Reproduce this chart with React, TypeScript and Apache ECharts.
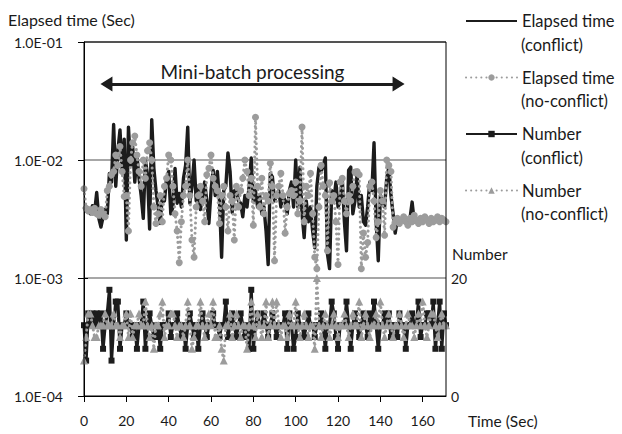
import React, { useEffect, useRef } from "react";
import * as echarts from "echarts";

// ---------- data ----------
// Elapsed time per step, seconds (t = index, 1 s per step)
const elapsedConflict = [
  4.0e-3, 3.7e-3, 3.9e-3, 3.5e-3, 4.1e-3, 3.6e-3, 5.3e-3, 3.2e-3, 2.7e-3, 3.3e-3,
  3.8e-3, 3.5e-3, 7.7e-3, 6.5e-3, 2.0e-2, 6.0e-3, 1.2e-2, 1.8e-2, 8.0e-3, 1.5e-2,
  2.1e-3, 1.9e-2, 9.0e-3, 1.3e-2, 6.5e-3, 1.1e-2, 7.0e-3, 5.0e-3, 3.2e-3, 1.0e-2,
  7.5e-3, 2.6e-3, 2.2e-2, 8.5e-3, 5.5e-3, 4.0e-3, 2.9e-3, 5.0e-3, 4.5e-3, 7.0e-3,
  8.0e-3, 3.5e-3, 4.0e-3, 8.5e-3, 4.3e-3, 5.2e-3, 4.0e-3, 7.0e-3, 9.0e-3, 1.9e-2,
  4.3e-3, 6.0e-3, 1.0e-2, 4.5e-3, 6.0e-3, 3.8e-3, 5.0e-3, 6.5e-3, 4.5e-3, 2.9e-3,
  5.5e-3, 8.2e-3, 5.0e-3, 8.0e-3, 4.5e-3, 1.5e-3, 5.5e-3, 6.0e-3, 1.15e-2, 8.0e-3,
  3.6e-3, 5.5e-3, 5.5e-3, 4.5e-3, 4.3e-3, 3.3e-3, 5.0e-3, 4.0e-3, 6.0e-3, 1.04e-2,
  4.5e-3, 5.5e-3, 4.0e-3, 5.0e-3, 3.5e-3, 4.0e-3, 2.5e-3, 1.3e-3, 7.7e-3, 7.2e-3,
  4.5e-3, 5.0e-3, 5.5e-3, 4.0e-3, 5.0e-3, 4.5e-3, 3.5e-3, 5.5e-3, 6.5e-3, 4.0e-3,
  1.0e-2, 4.0e-3, 8.7e-3, 3.5e-3, 2.2e-3, 4.5e-3, 3.0e-3, 4.0e-3, 2.5e-3, 1.8e-3,
  6.0e-3, 8.7e-3, 8.0e-3, 9.0e-3, 1.04e-2, 1.6e-3, 1.2e-3, 5.5e-3, 4.5e-3, 6.5e-3,
  4.0e-3, 4.5e-3, 7.0e-3, 3.0e-3, 1.7e-3, 8.2e-3, 8.7e-3, 3.5e-3, 4.5e-3, 7.5e-3,
  4.0e-3, 5.0e-3, 3.0e-3, 2.8e-3, 4.0e-3, 6.5e-3, 5.5e-3, 1.4e-2, 3.0e-3, 1.4e-3,
  5.0e-3, 4.5e-3, 4.0e-3, 7.0e-3, 8.7e-3, 5.0e-3, 3.5e-3, 2.4e-3, 3.1e-3, 3.0e-3,
  3.2e-3, 3.0e-3, 3.1e-3, 3.0e-3, 3.2e-3, 4.4e-3, 3.0e-3, 3.1e-3, 3.0e-3, 3.1e-3,
  3.0e-3, 3.2e-3, 3.0e-3, 3.1e-3, 3.0e-3, 3.1e-3, 3.2e-3, 3.0e-3, 3.1e-3, 3.0e-3,
  3.1e-3, 3.0e-3,
];

const elapsedNoConflict = [
  5.7e-3, 3.9e-3, 3.7e-3, 3.8e-3, 3.6e-3, 3.9e-3, 3.5e-3, 3.4e-3, 3.8e-3, 3.5e-3,
  3.3e-3, 5.5e-3, 6.0e-3, 7.5e-3, 8.0e-3, 1.1e-2, 9.0e-3, 1.3e-2, 8.0e-3, 4.9e-3,
  5.0e-3, 2.5e-3, 1.0e-2, 1.4e-2, 1.6e-2, 1.1e-2, 8.0e-3, 6.0e-3, 1.0e-2, 7.0e-3,
  1.2e-2, 1.4e-2, 1.0e-2, 4.0e-3, 2.9e-3, 3.5e-3, 5.0e-3, 3.0e-3, 6.0e-3, 7.0e-3,
  1.1e-2, 1.0e-2, 6.0e-3, 3.5e-3, 2.5e-3, 1.35e-3, 3.0e-3, 5.0e-3, 6.0e-3, 1.0e-2,
  5.0e-3, 2.1e-3, 1.5e-3, 4.0e-3, 5.0e-3, 6.0e-3, 4.5e-3, 3.0e-3, 7.5e-3, 8.5e-3,
  1.1e-2, 7.0e-3, 6.0e-3, 5.5e-3, 2.9e-3, 5.0e-3, 6.0e-3, 4.0e-3, 2.5e-3, 5.0e-3,
  4.5e-3, 2.1e-3, 6.0e-3, 4.0e-3, 5.5e-3, 7.0e-3, 1.0e-2, 8.0e-3, 5.0e-3, 7.0e-3,
  2.8e-3, 2.3e-2, 6.0e-3, 4.0e-3, 7.0e-3, 3.5e-3, 5.0e-3, 4.5e-3, 9.4e-3, 6.0e-3,
  1.4e-3, 5.0e-3, 6.0e-3, 7.7e-3, 5.0e-3, 2.4e-3, 4.0e-3, 5.2e-3, 5.5e-3, 5.0e-3,
  6.5e-3, 3.5e-3, 4.5e-3, 1.9e-2, 3.0e-3, 6.0e-3, 5.0e-3, 7.7e-3, 3.5e-3, 1.5e-3,
  1.2e-3, 4.0e-3, 9.0e-3, 6.0e-3, 5.0e-3, 1.7e-3, 6.4e-3, 4.5e-3, 5.0e-3, 3.0e-3,
  1.3e-3, 6.5e-3, 7.0e-3, 4.5e-3, 3.5e-3, 5.0e-3, 4.5e-3, 6.0e-3, 7.9e-3, 8.0e-3,
  7.5e-3, 1.2e-3, 2.4e-3, 1.5e-3, 2.0e-3, 6.0e-3, 6.5e-3, 4.5e-3, 2.2e-3, 3.0e-3,
  5.5e-3, 4.5e-3, 2.3e-3, 1.0e-2, 9.0e-3, 8.0e-3, 2.7e-3, 3.0e-3, 3.2e-3, 2.9e-3,
  3.1e-3, 3.3e-3, 3.0e-3, 2.8e-3, 3.2e-3, 3.0e-3, 3.4e-3, 3.1e-3, 2.9e-3, 3.2e-3,
  3.0e-3, 3.3e-3, 3.1e-3, 2.9e-3, 3.2e-3, 3.0e-3, 3.1e-3, 3.3e-3, 3.0e-3, 3.2e-3,
  3.1e-3, 3.0e-3,
];

const numberConflict = [
  12, 6, 14, 12, 14, 12, 14, 12, 14, 8,
  12, 14, 18, 6, 12, 16, 16, 8, 12, 12,
  14, 12, 12, 10, 12, 8, 12, 12, 16, 8,
  12, 14, 12, 10, 10, 12, 8, 12, 12, 12,
  14, 10, 12, 12, 14, 12, 10, 12, 8, 12,
  14, 12, 10, 12, 8, 12, 14, 12, 10, 12,
  12, 14, 12, 12, 10, 12, 12, 16, 10, 12,
  14, 12, 10, 12, 14, 12, 10, 12, 8, 18,
  8, 12, 14, 12, 12, 14, 12, 10, 12, 14,
  12, 10, 12, 12, 12, 14, 8, 14, 12, 8,
  10, 14, 12, 12, 10, 12, 14, 12, 12, 10,
  12, 12, 14, 12, 8, 12, 12, 16, 14, 10,
  8, 12, 12, 12, 16, 12, 8, 12, 14, 12,
  10, 12, 14, 12, 10, 14, 12, 16, 12, 8,
  12, 12, 14, 12, 14, 10, 12, 12, 10, 14,
  12, 12, 8, 12, 12, 14, 12, 12, 16, 10,
  12, 12, 14, 14, 12, 16, 8, 12, 16, 8,
  14, 12,
];

const numberNoConflict = [
  6, 10, 14, 14, 12, 10, 10, 12, 12, 12,
  14, 12, 12, 12, 14, 12, 12, 10, 12, 12,
  14, 10, 14, 10, 12, 12, 14, 12, 12, 16,
  12, 10, 12, 8, 12, 12, 14, 16, 10, 12,
  12, 14, 14, 12, 10, 12, 12, 10, 12, 16,
  12, 8, 10, 12, 12, 16, 12, 10, 12, 14,
  12, 16, 10, 10, 12, 8, 6, 12, 12, 14,
  10, 12, 14, 12, 10, 12, 12, 8, 12, 16,
  12, 10, 14, 12, 10, 12, 16, 10, 12, 16,
  12, 16, 12, 10, 12, 12, 10, 14, 12, 12,
  16, 12, 10, 12, 14, 12, 10, 12, 12, 8,
  20, 12, 10, 12, 14, 12, 10, 12, 14, 12,
  10, 12, 12, 14, 12, 10, 12, 14, 12, 12,
  16, 10, 12, 14, 12, 10, 12, 12, 14, 12,
  16, 12, 10, 12, 14, 12, 10, 12, 12, 14,
  12, 10, 12, 14, 12, 12, 10, 12, 14, 12,
  16, 12, 10, 12, 14, 14, 12, 10, 12, 14,
  12, 12,
];

const seriesNames = [
  "Elapsed time (conflict)",
  "Elapsed time (no-conflict)",
  "Number (conflict)",
  "Number (no-conflict)",
];
const legendSecondLines = ["(conflict)", "(no-conflict)", "(conflict)", "(no-conflict)"];

const timeRange = [0, 171];
const timeInterval = 20;
const elapsedRange = [1e-4, 1e-1];
const numberRange = [0, 20];
const batchSpan = [10.6, 148.6]; // Mini-batch processing arrow (sec)
const batchLevel = 0.044; // arrow height on elapsed-time axis

// ---------- styles ----------
const FONT = "Lato";
const TEXT = "#1a1a1a";
const BLACK = "#1c1c1c";
const GRAY = "#9c9c9c";

const PLOT = { left: 84, top: 42, right: 446, bottom: 396 };

const toPairs = (arr: number[]) => arr.map((v, i) => [i, v]);

export default function App() {
  const ref = useRef<HTMLDivElement>(null);

  useEffect(() => {
    document.body.style.margin = "0";
    if (!ref.current) return;
    const chart = echarts.init(ref.current, null, { renderer: "svg" });

    const legendTop = 11;
    const legendStep = 56.5;
    const legendTextX = 521;

    const option: any = {
      animation: false,
      backgroundColor: "#ffffff",
      textStyle: { fontFamily: FONT, color: TEXT },
      grid: [
        { left: PLOT.left, right: 622 - PLOT.right, top: PLOT.top, bottom: 434 - PLOT.bottom, show: false },
        { left: PLOT.left, right: 622 - PLOT.right, top: 278, bottom: 434 - PLOT.bottom, show: false },
      ],
      legend: {
        orient: "vertical",
        left: 465,
        top: legendTop,
        padding: 0,
        itemWidth: 51,
        itemHeight: 8,
        itemGap: legendStep - 20,
        selectedMode: false,
        data: [
          { name: seriesNames[0], itemStyle: { opacity: 0 } },
          { name: seriesNames[1] },
          { name: seriesNames[2] },
          { name: seriesNames[3] },
        ],
        formatter: (n: string) => n.split(" (")[0],
        textStyle: { fontFamily: FONT, fontSize: 16.5, color: TEXT, lineHeight: 20 },
      },
      xAxis: [
        {
          type: "value",
          gridIndex: 0,
          min: timeRange[0],
          max: timeRange[1],
          interval: timeInterval,
          axisLine: { show: true, onZero: false, lineStyle: { color: "#000", width: 1 } },
          axisTick: { show: true, length: 6, lineStyle: { color: "#000" } },
          axisLabel: { margin: 17, showMaxLabel: false, fontSize: 14, fontFamily: FONT, color: TEXT },
          splitLine: { show: false },
        },
        {
          type: "value",
          gridIndex: 1,
          min: timeRange[0],
          max: timeRange[1],
          show: false,
        },
      ],
      yAxis: [
        {
          type: "log",
          logBase: 10,
          gridIndex: 0,
          min: elapsedRange[0],
          max: elapsedRange[1],
          axisLine: { show: true, lineStyle: { color: "#000", width: 1 } },
          axisTick: { show: true, length: 6, lineStyle: { color: "#000" } },
          minorTick: { show: false },
          axisLabel: {
            margin: 21,
            fontSize: 14,
            fontFamily: FONT,
            color: TEXT,
            formatter: (v: number) => {
              const e = Math.round(Math.log10(v));
              return "1.0E" + (e < 0 ? "-" : "+") + String(Math.abs(e)).padStart(2, "0");
            },
          },
          splitLine: { show: true, showMinLine: false, showMaxLine: false, lineStyle: { color: "#8a8a8a", width: 1.5 } },
        },
        {
          type: "value",
          gridIndex: 1,
          position: "right",
          min: numberRange[0],
          max: numberRange[1],
          interval: 20,
          axisLine: { show: true, lineStyle: { color: "#000", width: 1 } },
          axisTick: { show: true, length: 4, lineStyle: { color: "#000" } },
          axisLabel: { margin: 5, fontSize: 14, fontFamily: FONT, color: TEXT },
          splitLine: { show: false },
        },
      ],
      series: [
        {
          name: seriesNames[0],
          type: "line",
          xAxisIndex: 0,
          yAxisIndex: 0,
          data: toPairs(elapsedConflict),
          symbol: "none",
          lineStyle: { color: BLACK, width: 3.4, join: "round" },
          itemStyle: { color: BLACK },
          z: 2,
          markLine: {
            silent: true,
            symbol: ["triangle", "triangle"],
            symbolSize: [15, 12],
            lineStyle: { color: BLACK, width: 3, type: "solid" },
            label: {
              show: true,
              position: "insideMiddleTop",
              formatter: "Mini-batch processing",
              fontSize: 19,
              fontFamily: FONT,
              color: TEXT,
              distance: 3,
            },
            data: [[{ coord: [batchSpan[0], batchLevel] }, { coord: [batchSpan[1], batchLevel] }]],
          },
        },
        {
          name: seriesNames[1],
          type: "line",
          xAxisIndex: 0,
          yAxisIndex: 0,
          data: toPairs(elapsedNoConflict),
          symbol: "circle",
          symbolSize: 7,
          showAllSymbol: true,
          lineStyle: { color: GRAY, width: 3, type: [0.1, 5], cap: "round" },
          itemStyle: { color: GRAY, borderWidth: 0 },
          z: 3,
        },
        {
          name: seriesNames[2],
          type: "line",
          xAxisIndex: 1,
          yAxisIndex: 1,
          data: toPairs(numberConflict),
          symbol: "rect",
          symbolSize: 6,
          showAllSymbol: true,
          lineStyle: { color: BLACK, width: 3.2 },
          itemStyle: { color: BLACK, borderWidth: 0 },
          z: 4,
        },
        {
          name: seriesNames[3],
          type: "line",
          xAxisIndex: 1,
          yAxisIndex: 1,
          data: toPairs(numberNoConflict),
          symbol: "triangle",
          symbolSize: 8,
          showAllSymbol: true,
          lineStyle: { color: GRAY, width: 3, type: [0.1, 5], cap: "round" },
          itemStyle: { color: GRAY, borderWidth: 0 },
          z: 5,
        },
      ],
      graphic: [
        {
          type: "rect",
          z: 100,
          silent: true,
          shape: { x: PLOT.left, y: PLOT.top, width: PLOT.right - PLOT.left, height: PLOT.bottom - PLOT.top },
          style: { fill: "none", stroke: "#000", lineWidth: 1 },
        },
        {
          type: "text",
          x: 8,
          y: 19,
          style: { text: "Elapsed time (Sec)", fontSize: 16, fontFamily: FONT, fill: TEXT, verticalAlign: "middle" },
        },
        {
          type: "text",
          x: 452,
          y: 254,
          style: { text: "Number", fontSize: 15.5, fontFamily: FONT, fill: TEXT, verticalAlign: "middle" },
        },
        {
          type: "text",
          x: 468,
          y: 421,
          style: { text: "Time (Sec)", fontSize: 15.5, fontFamily: FONT, fill: TEXT, verticalAlign: "middle" },
        },
        ...legendSecondLines.map((t, i) => ({
          type: "text",
          x: legendTextX,
          y: legendTop + 10 + i * legendStep + 23.5,
          style: { text: t, fontSize: 16.5, fontFamily: FONT, fill: TEXT, verticalAlign: "middle" },
        })),
      ],
    };

    chart.setOption(option);
    return () => chart.dispose();
  }, []);

  return <div ref={ref} style={{ width: 622, height: 434 }} />;
}
